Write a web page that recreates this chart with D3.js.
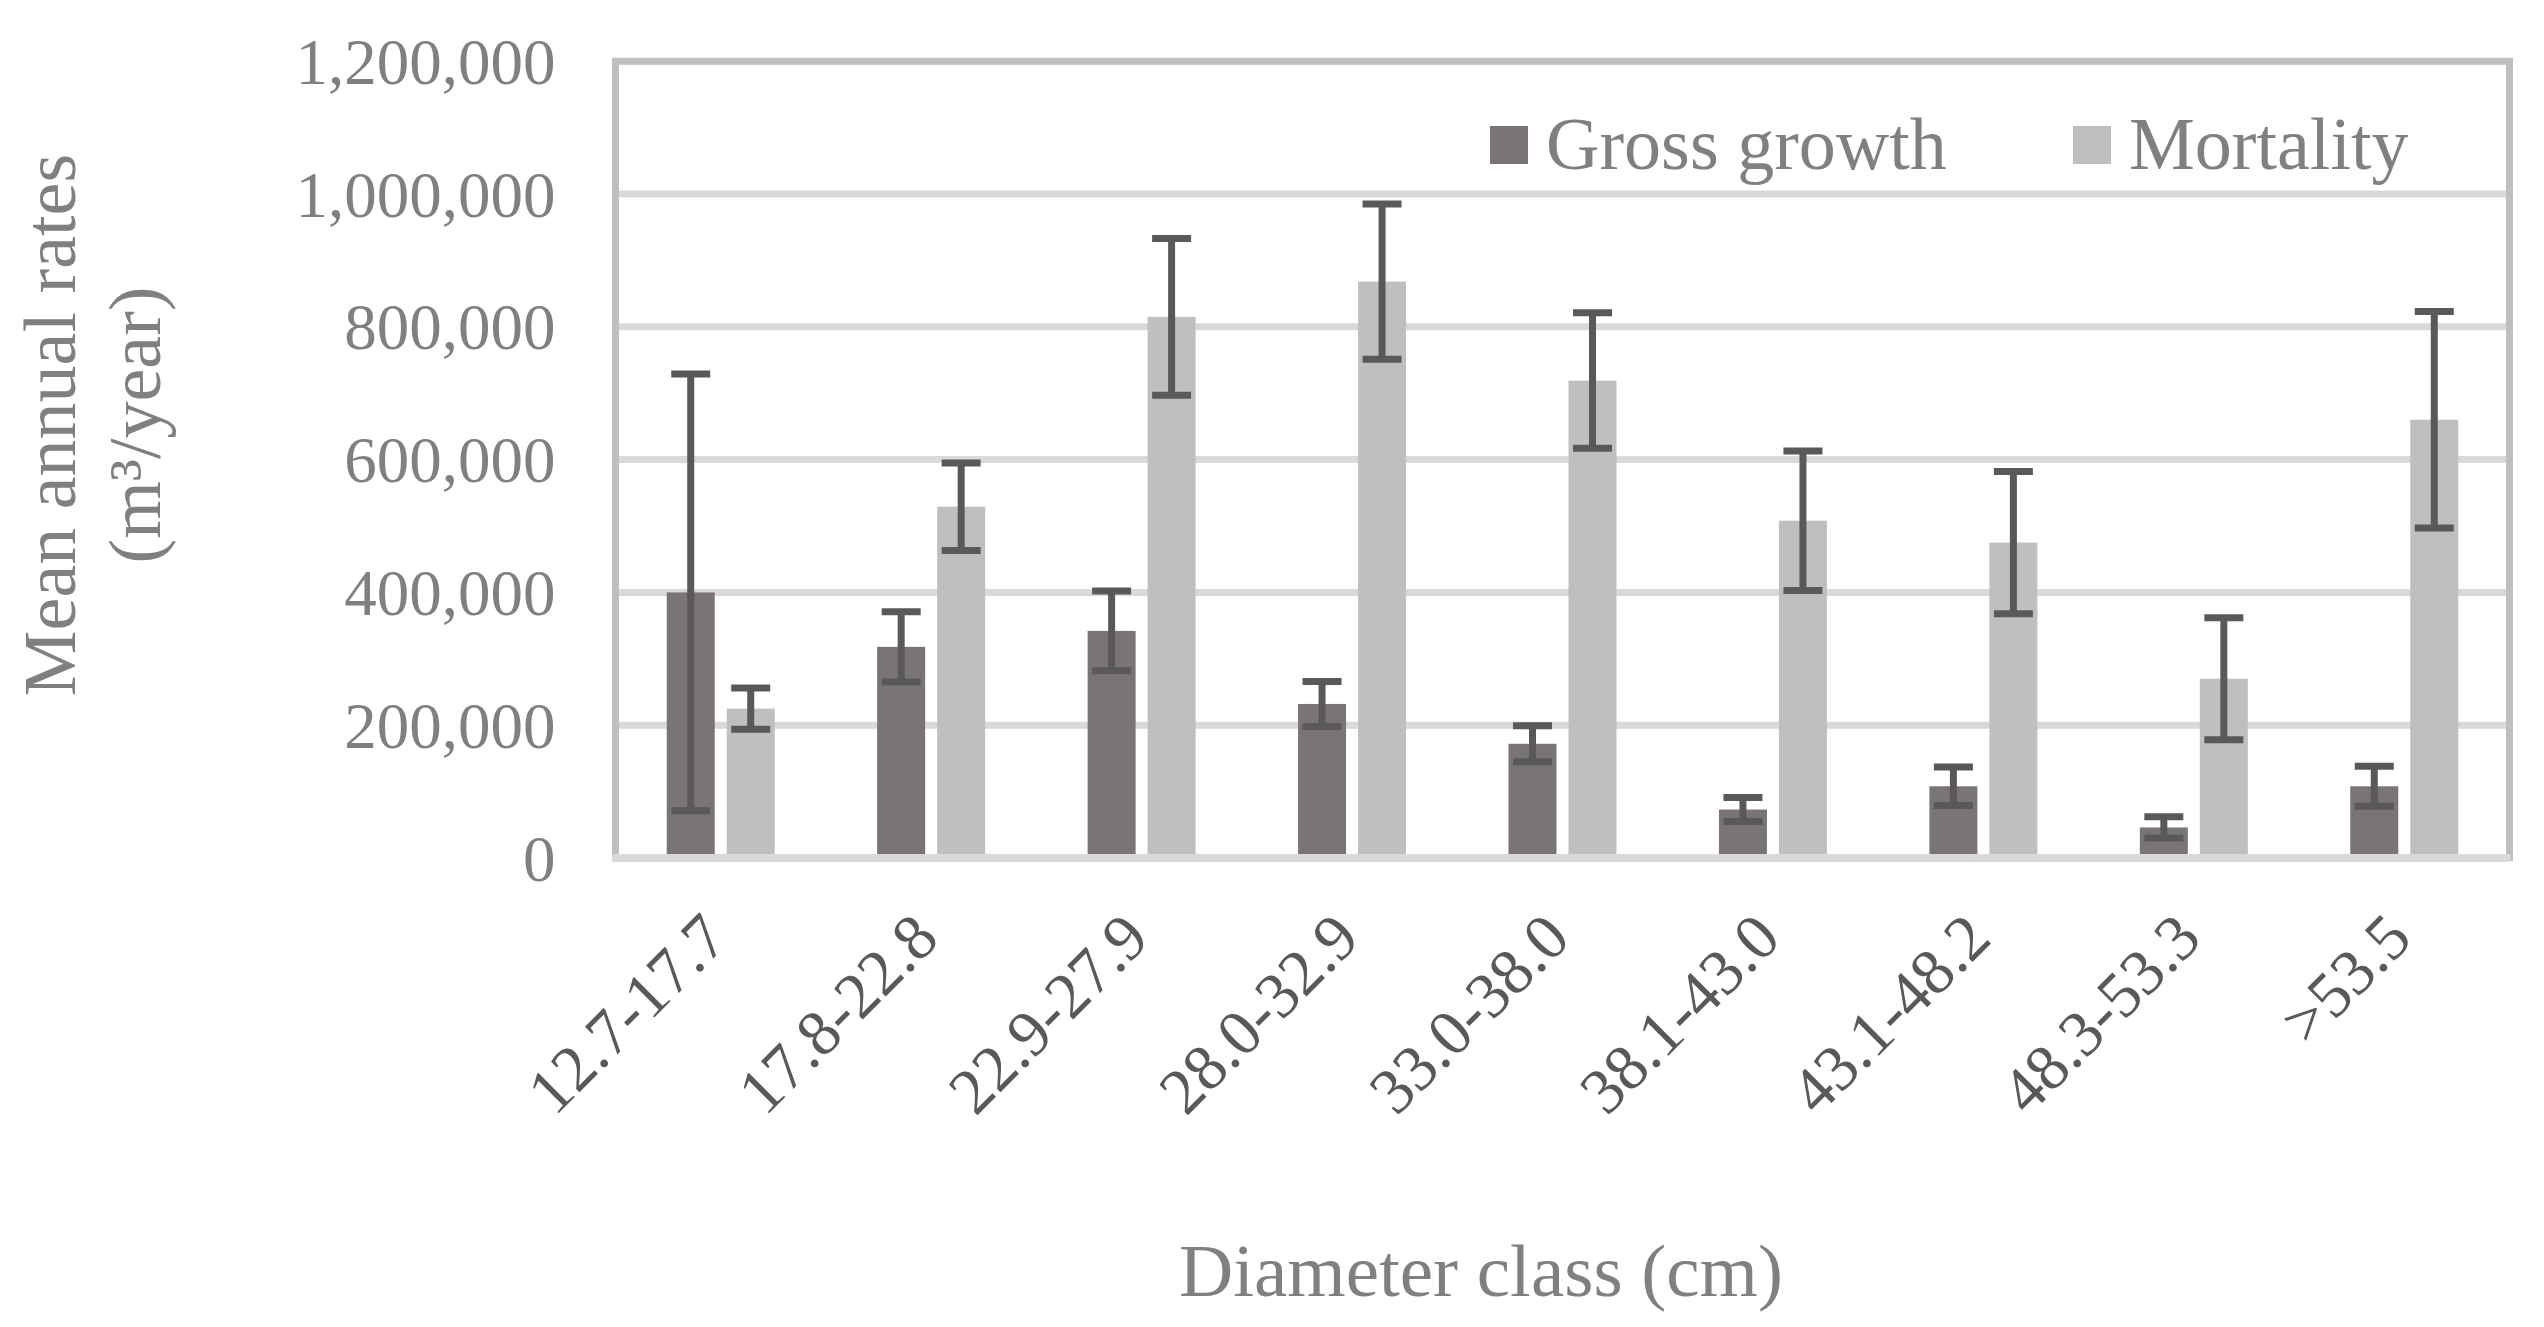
<!DOCTYPE html>
<html>
<head>
<meta charset="utf-8">
<script src="https://cdn.jsdelivr.net/npm/d3@7"></script>
<style>
  html, body { margin: 0; padding: 0; background: #ffffff; }
  svg { display: block; }
  text { font-family: "Liberation Serif", "Times New Roman", serif; }
</style>
</head>
<body>
<svg id="chart" width="2544" height="1327"></svg>
<script>
// ---- Data ----
const categories = ["12.7-17.7", "17.8-22.8", "22.9-27.9", "28.0-32.9", "33.0-38.0", "38.1-43.0", "43.1-48.2", "48.3-53.3", ">53.5"];
const seriesNames = ["Gross growth", "Mortality"];
const grossGrowth = [400000, 318000, 342000, 232000, 172000, 73000, 108000, 46000, 108000];
const grossGrowthErr = [329000, 53000, 60000, 34000, 27000, 18000, 29000, 16000, 30000];
const mortality = [225000, 529000, 815000, 868000, 719000, 508000, 475000, 270000, 660000];
const mortalityErr = [31000, 66000, 118000, 117000, 102000, 105000, 107000, 92000, 163000];
const yTicks = [0, 200000, 400000, 600000, 800000, 1000000, 1200000];
const yTitleLines = ["Mean annual rates", "(m\u00B3/year)"];
const xTitle = "Diameter class (cm)";

// ---- Layout ----
const svg = d3.select("#chart");
const plot = { left: 615.5, right: 2509.5, top: 61.2, bottom: 858 };
const colors = { "Gross growth": "#7a7474", "Mortality": "#bfbfbf" };
const errColor = "#595959";

const x0 = d3.scaleBand().domain(categories).range([plot.left, plot.right]).paddingInner(0).paddingOuter(0);
const pairWidth = 108;
const x1 = d3.scaleBand().domain(seriesNames).range([0, pairWidth]).paddingInner(0.2).paddingOuter(0);
const pairOffset = x0.bandwidth() / 2 - pairWidth / 2;
const y = d3.scaleLinear().domain([0, 1200000]).range([plot.bottom, plot.top]);

const rows = categories.map((c, i) => ({
  cat: c,
  values: [
    { key: "Gross growth", v: grossGrowth[i], e: grossGrowthErr[i] },
    { key: "Mortality", v: mortality[i], e: mortalityErr[i] }
  ]
}));

// Gridlines
svg.append("g").selectAll("line")
  .data(yTicks.filter(t => t > 0 && t < 1200000))
  .join("line")
  .attr("x1", plot.left + 3.5).attr("x2", plot.right - 3.5)
  .attr("y1", d => y(d)).attr("y2", d => y(d))
  .attr("stroke", "#d9d9d9").attr("stroke-width", 7);

// Bars
const groups = svg.append("g").selectAll("g")
  .data(rows).join("g")
  .attr("transform", d => `translate(${x0(d.cat) + pairOffset},0)`);

groups.selectAll("rect")
  .data(d => d.values).join("rect")
  .attr("x", d => x1(d.key))
  .attr("width", x1.bandwidth())
  .attr("y", d => y(d.v))
  .attr("height", d => y(0) - y(d.v))
  .attr("fill", d => colors[d.key]);

// Error bars
const capW = 39;
const eb = groups.selectAll("g.err")
  .data(d => d.values).join("g").attr("class", "err")
  .attr("stroke", errColor).attr("stroke-width", 7);
eb.append("line")
  .attr("x1", d => x1(d.key) + x1.bandwidth() / 2)
  .attr("x2", d => x1(d.key) + x1.bandwidth() / 2)
  .attr("y1", d => y(d.v + d.e)).attr("y2", d => y(Math.max(0, d.v - d.e)));
eb.append("line")
  .attr("x1", d => x1(d.key) + x1.bandwidth() / 2 - capW / 2)
  .attr("x2", d => x1(d.key) + x1.bandwidth() / 2 + capW / 2)
  .attr("y1", d => y(d.v + d.e)).attr("y2", d => y(d.v + d.e));
eb.append("line")
  .attr("x1", d => x1(d.key) + x1.bandwidth() / 2 - capW / 2)
  .attr("x2", d => x1(d.key) + x1.bandwidth() / 2 + capW / 2)
  .attr("y1", d => y(Math.max(0, d.v - d.e))).attr("y2", d => y(Math.max(0, d.v - d.e)));

// Frame (left, top, right) and bottom axis line
const frame = svg.append("g").attr("fill", "none");
frame.append("path")
  .attr("d", `M${plot.left},${plot.bottom + 4} V${plot.top} H${plot.right} V${plot.bottom + 3}`)
  .attr("stroke", "#bfbfbf").attr("stroke-width", 7).attr("stroke-linejoin", "miter");
frame.append("line")
  .attr("x1", plot.left - 3.5).attr("x2", plot.right + 1)
  .attr("y1", plot.bottom).attr("y2", plot.bottom)
  .attr("stroke", "#d9d9d9").attr("stroke-width", 8);

// Y axis labels
const yAxis = svg.append("g")
  .attr("transform", `translate(${plot.left},0)`)
  .call(d3.axisLeft(y).tickValues(yTicks).tickFormat(d3.format(",")).tickSize(0).tickPadding(60));
yAxis.select(".domain").remove();
yAxis.selectAll("text")
  .attr("font-family", "Liberation Serif, Times New Roman, serif")
  .attr("font-size", 65)
  .attr("fill", "#808080")
  .attr("dy", "0.34em");

// X axis labels (rotated)
const xAxis = svg.append("g")
  .attr("transform", `translate(0,${plot.bottom})`)
  .call(d3.axisBottom(x0).tickSize(0).tickPadding(0));
xAxis.select(".domain").remove();
xAxis.selectAll("text")
  .attr("font-family", "Liberation Serif, Times New Roman, serif")
  .attr("font-size", 65)
  .attr("fill", "#595959")
  .attr("text-anchor", "end")
  .attr("x", 10).attr("y", 83).attr("dy", 0)
  .attr("transform", "rotate(-45, 10, 83)");

// Y axis title
const yt = svg.append("text")
  .attr("transform", "translate(0,425) rotate(-90)")
  .attr("text-anchor", "middle")
  .attr("font-size", 74)
  .attr("fill", "#808080");
yt.selectAll("tspan").data(yTitleLines).join("tspan")
  .attr("x", 0)
  .attr("y", (d, i) => 75 + i * 85)
  .text(d => d);

// X axis title
svg.append("text")
  .attr("x", 1481).attr("y", 1296)
  .attr("text-anchor", "middle")
  .attr("font-size", 75)
  .attr("fill", "#808080")
  .text(xTitle);

// Legend
const legendX = [1490, 2073];
const lg = svg.append("g").selectAll("g").data(seriesNames).join("g")
  .attr("transform", (d, i) => `translate(${legendX[i]},0)`);
lg.append("rect")
  .attr("x", 0).attr("y", 126).attr("width", 38).attr("height", 38)
  .attr("fill", d => colors[d]);
lg.append("text")
  .attr("x", 56).attr("y", 169)
  .attr("font-size", 74)
  .attr("fill", "#808080")
  .text(d => d);
</script>
</body>
</html>
